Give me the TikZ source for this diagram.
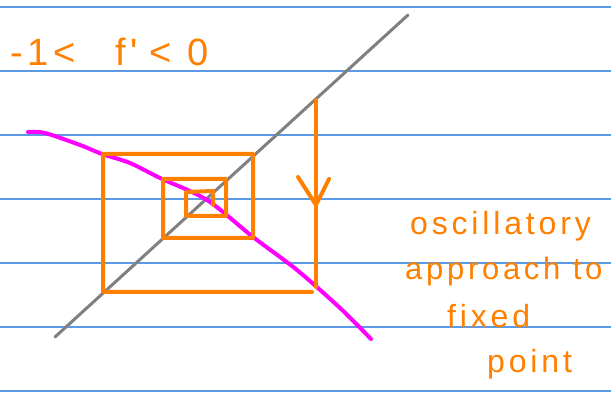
\documentclass[tikz,border=0pt]{standalone}
\usepackage{fontspec}
\setmainfont{Liberation Sans}
\newfontfamily\handfont[LetterSpace=12]{Liberation Sans}
\definecolor{inkorange}{RGB}{255,128,0}
\definecolor{inkpink}{RGB}{255,0,255}
\definecolor{ruleblue}{RGB}{91,155,230}
\definecolor{diaggrey}{RGB}{128,128,128}
\tikzset{
  ink/.style={inkorange, line width=4pt, line cap=round, line join=round},
  hand/.style={text=inkorange, font=\handfont\fontsize{32}{36}\selectfont, inner sep=0pt, anchor=base west},
}
\begin{document}
\begin{tikzpicture}[x=1pt, y=-1pt]
\useasboundingbox (0,0) rectangle (611,398);
\fill[white] (0,0) rectangle (611,398);
\foreach \yy in {7,71,...,391}
  \draw[ruleblue, line width=1.5pt] (0,\yy) -- (611,\yy);
% diagonal
\draw[diaggrey, line width=3pt, line cap=round] (55,337) -- (408,15);
% the map
\draw[inkpink, line width=4pt, line cap=round] plot[smooth] coordinates {(28,132) (45,133) (80,145) (102,154) (130,163) (160,178) (207,200) (253,237) (297,270) (340,308) (371,339)};
% cobweb
\draw[ink] (316,100) -- (316,287);
\draw[ink] (298,177) -- (316,205) -- (329,179);
\draw[ink] (312,292) -- (103,292) -- (103,154) -- (253,154) -- (253,238) -- (163,238) -- (163,179) -- (226,179) -- (226,216) -- (186,216) -- (186,192) -- (213,191) -- (213,205);
\node[hand, font=\handfont\fontsize{38}{40}\selectfont] (cond) at (10,66) {-1<\hspace{40pt}f'\hspace{12pt}<\hspace{16pt}0};
\node[hand] (osc) at (410,235) {oscillatory};
\node[hand, font=\handfont\fontsize{31}{36}\selectfont] (appr) at (405,280) {approach to};
\node[hand] (fixd) at (447,327) {fixed};
\node[hand] (pnt) at (487,372) {point};
\end{tikzpicture}
\end{document}
